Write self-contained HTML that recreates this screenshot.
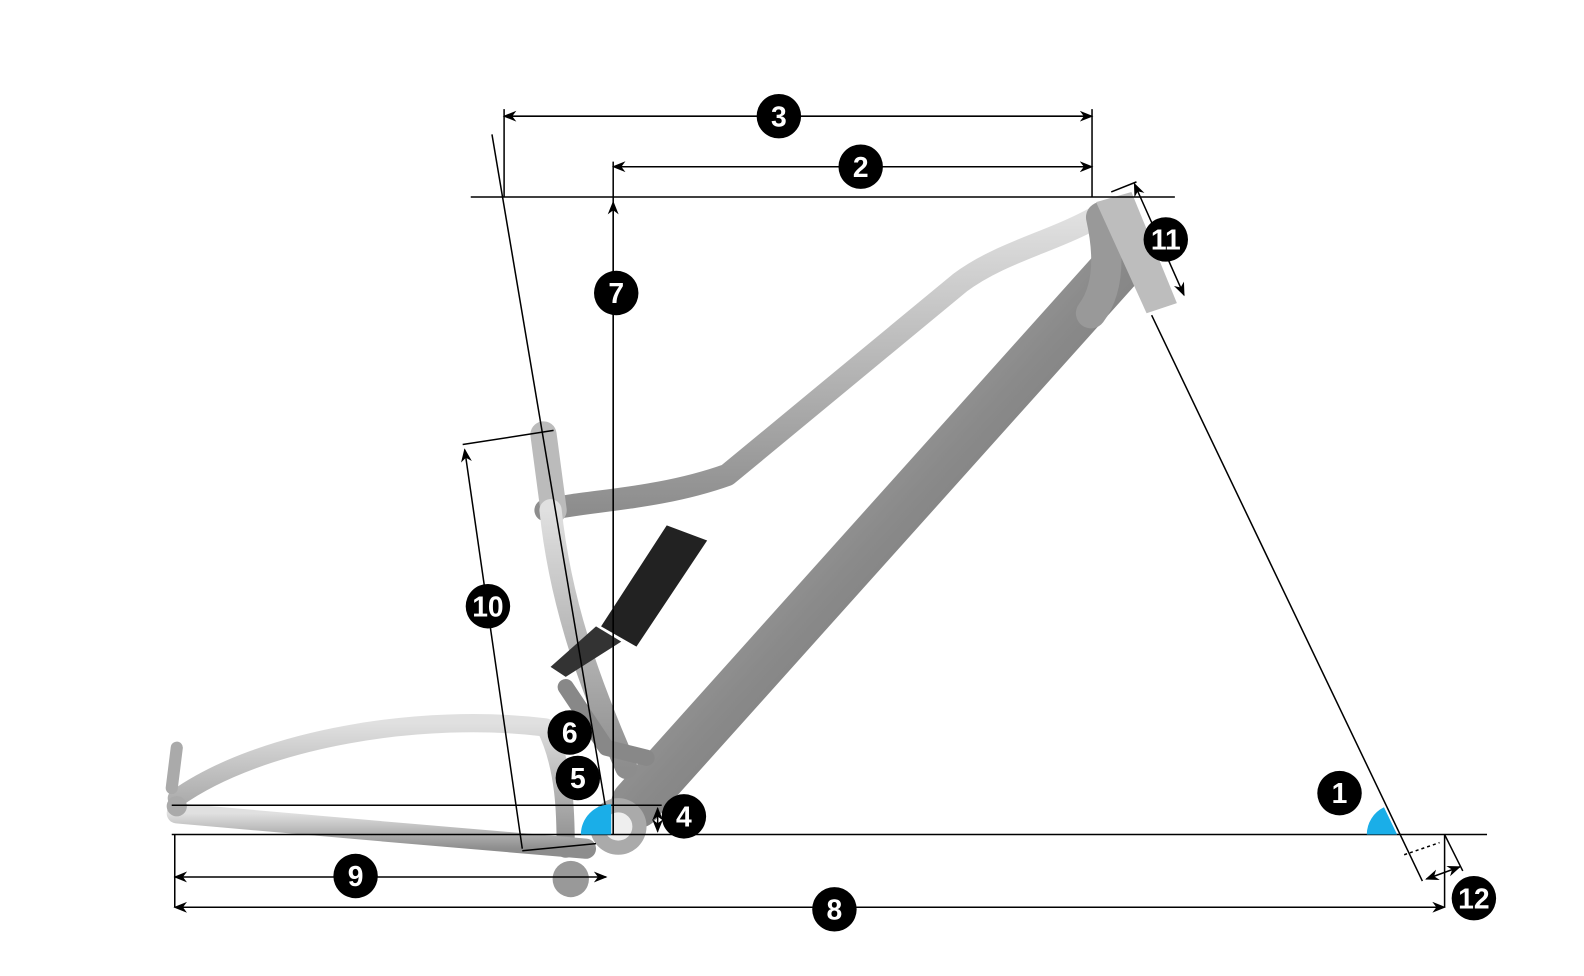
<!DOCTYPE html>
<html style="overflow:hidden"><head><style>
html,body{margin:0;padding:0;background:#fff;width:100%;height:100%;overflow:hidden}
svg{display:block;width:100vw;height:100vh}
text{font-family:"Liberation Sans Narrow","Liberation Sans",sans-serif;font-weight:bold;fill:#fff;text-anchor:middle}
</style></head><body>
<svg viewBox="0 0 1568 966" preserveAspectRatio="none" xmlns="http://www.w3.org/2000/svg">
<defs>
<linearGradient id="g" x1="0" y1="0" x2="1" y2="1">
<stop offset="0" stop-color="#d8d8d8"/><stop offset="0.5" stop-color="#8a8a8a"/><stop offset="1" stop-color="#5a5a5a"/>
</linearGradient>
<linearGradient id="g2" x1="0" y1="0" x2="0" y2="1">
<stop offset="0" stop-color="#e0e0e0"/><stop offset="1" stop-color="#8d8d8d"/>
</linearGradient>
<marker id="a" viewBox="0 0 10 10" refX="9" refY="5" markerWidth="9" markerHeight="9" orient="auto-start-reverse"><path d="M0,1 L10,5 L0,9 L3,5z" fill="#000"/></marker>
</defs>
<g fill="none" stroke-linecap="round" stroke-linejoin="round">
<path d="M1110,260 L630,795" stroke="url(#g)" stroke-width="50"/>
<path d="M1085,215 C1040,240 990,250 950,280 L720,470 C650,495 580,495 540,505" stroke="url(#g2)" stroke-width="22"/>
<path d="M1090,215 C1100,260 1095,290 1080,310" stroke="#999" stroke-width="30"/>
<path d="M538,430 L548,505" stroke="#bbb" stroke-width="26"/>
<path d="M545,505 C555,600 585,680 620,760" stroke="url(#g2)" stroke-width="22"/>
<path d="M175,790 C260,730 420,705 540,720 C560,760 560,810 560,840" stroke="url(#g2)" stroke-width="18"/>
<path d="M175,805 C300,815 450,830 580,840" stroke="url(#g2)" stroke-width="20"/>
<path d="M170,780 L175,740" stroke="#aaa" stroke-width="12"/>
<path d="M560,680 L600,740 L640,750" stroke="#888" stroke-width="16"/>
</g>
<path d="M1085,200 L1120,190 L1165,300 L1135,310 Z" fill="#bdbdbd"/>
<path d="M660,520 L700,535 L630,640 L595,620 Z" fill="#222"/>
<path d="M590,620 L615,635 L560,670 L545,660 Z" fill="#333"/>
<circle cx="612" cy="818" r="28" fill="#aaa"/><circle cx="612" cy="818" r="14" fill="#eee"/>
<circle cx="565" cy="870" r="18" fill="#999"/>
<circle cx="175" cy="798" r="10" fill="#aaa"/>
<g stroke="#000" stroke-width="1.5" fill="none">
<line x1="170" y1="826" x2="1472" y2="826"/>
<line x1="170" y1="797" x2="655" y2="797"/>
<line x1="466" y1="195" x2="1163" y2="195"/>
<line x1="499" y1="115" x2="1081" y2="115" marker-start="url(#a)" marker-end="url(#a)"/>
<line x1="607" y1="165" x2="1081" y2="165" marker-start="url(#a)" marker-end="url(#a)"/>
<line x1="499" y1="108" x2="499" y2="195"/>
<line x1="1081" y1="108" x2="1081" y2="195"/>
<line x1="607" y1="160" x2="607" y2="826"/>
<line x1="607" y1="200" x2="607" y2="826" marker-start="url(#a)"/>
<line x1="487" y1="133" x2="604" y2="826"/>
<line x1="1140" y1="312" x2="1408" y2="872"/>
<line x1="1430" y1="826" x2="1448" y2="862"/>
<line x1="1430" y1="826" x2="1430" y2="898"/>
<line x1="1412" y1="870" x2="1445" y2="858" marker-start="url(#a)" marker-end="url(#a)"/>
<line x1="1123" y1="182" x2="1172" y2="292" marker-start="url(#a)" marker-end="url(#a)"/>
<line x1="1100" y1="190" x2="1125" y2="180"/>
<line x1="458" y1="440" x2="548" y2="426"/>
<line x1="460" y1="445" x2="517" y2="840" marker-start="url(#a)"/>
<line x1="517" y1="842" x2="590" y2="835"/>
<line x1="173" y1="868" x2="600" y2="868" marker-start="url(#a)" marker-end="url(#a)"/>
<line x1="173" y1="898" x2="1430" y2="898" marker-start="url(#a)" marker-end="url(#a)"/>
<line x1="173" y1="826" x2="173" y2="898"/>
<line x1="651" y1="800" x2="651" y2="823" marker-start="url(#a)" marker-end="url(#a)"/>
<line x1="1390" y1="846" x2="1425" y2="834" stroke-dasharray="3,3"/>
</g>
<path d="M605,826 L605,796 A30,30 0 0 0 575,826 Z" fill="#1aaee8"/>
<path d="M1383,826 L1370,799 A30,30 0 0 0 1353,826 Z" fill="#1aaee8"/>
<g font-size="28">
<circle cx="771" cy="115" r="22" fill="#000"/><text x="771" y="125">3</text>
<circle cx="852" cy="165" r="22" fill="#000"/><text x="852" y="175">2</text>
<circle cx="610" cy="290" r="22" fill="#000"/><text x="610" y="300">7</text>
<circle cx="1154" cy="237" r="22" fill="#000"/><text x="1154" y="247">11</text>
<circle cx="483" cy="600" r="22" fill="#000"/><text x="483" y="610">10</text>
<circle cx="564" cy="725" r="22" fill="#000"/><text x="564" y="735">6</text>
<circle cx="572" cy="770" r="22" fill="#000"/><text x="572" y="780">5</text>
<circle cx="677" cy="808" r="22" fill="#000"/><text x="677" y="818">4</text>
<circle cx="1326" cy="785" r="22" fill="#000"/><text x="1326" y="795">1</text>
<circle cx="352" cy="867" r="22" fill="#000"/><text x="352" y="877">9</text>
<circle cx="826" cy="900" r="22" fill="#000"/><text x="826" y="910">8</text>
<circle cx="1459" cy="889" r="22" fill="#000"/><text x="1459" y="899">12</text>
</g>
</svg>
</body></html>
